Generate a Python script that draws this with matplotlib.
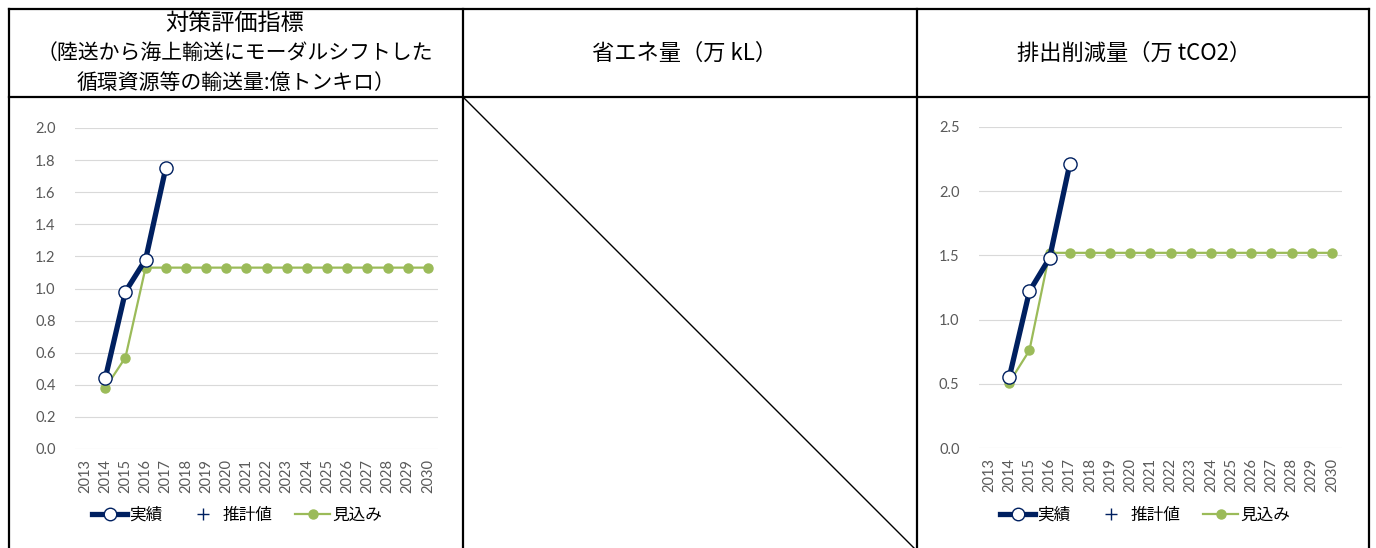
import matplotlib
matplotlib.use("Agg")
import matplotlib.pyplot as plt
from matplotlib.lines import Line2D

plt.rcParams['font.family'] = ['Noto Sans CJK JP', 'DejaVu Sans']

years = [str(y) for y in range(2013, 2031)]

# Left chart: 循環資源等の輸送量 (億トンキロ)
left_actual_years = ['2014', '2015', '2016', '2017']
left_actual = [0.44, 0.98, 1.18, 1.75]
left_outlook_years = [str(y) for y in range(2014, 2031)]
left_outlook = [0.38, 0.57, 1.13, 1.13, 1.13, 1.13, 1.13, 1.13, 1.13,
                1.13, 1.13, 1.13, 1.13, 1.13, 1.13, 1.13, 1.13]
left_yticks = [0.0, 0.2, 0.4, 0.6, 0.8, 1.0, 1.2, 1.4, 1.6, 1.8, 2.0]

# Right chart: 排出削減量 (万tCO2)
right_actual_years = ['2014', '2015', '2016', '2017']
right_actual = [0.55, 1.22, 1.48, 2.21]
right_outlook_years = [str(y) for y in range(2014, 2031)]
right_outlook = [0.51, 0.76, 1.52, 1.52, 1.52, 1.52, 1.52, 1.52, 1.52,
                 1.52, 1.52, 1.52, 1.52, 1.52, 1.52, 1.52, 1.52]
right_yticks = [0.0, 0.5, 1.0, 1.5, 2.0, 2.5]

header_left = ["対策評価指標", "（陸送から海上輸送にモーダルシフトした", "循環資源等の輸送量:億トンキロ）"]
header_mid = "省エネ量（万 kL）"
header_right = "排出削減量（万 tCO2）"
legend_labels = ["実績", "推計値", "見込み"]

NAVY = "#002060"
GREEN = "#9BBB59"
GRID = "#D9D9D9"
TICK = "#595959"

W, H = 1376, 548
fig = plt.figure(figsize=(W / 100, H / 100), dpi=100)
fig.patch.set_facecolor("white")

# background / table axes in pixel coords
bg = fig.add_axes([0, 0, 1, 1])
bg.set_xlim(0, W)
bg.set_ylim(H, 0)
bg.axis("off")
lw = 1.6
x_left, x_v1, x_v2, x_right = 9, 463, 917, 1369
y_top, y_mid, y_bot = 9, 97, 560
for x in (x_left, x_v1, x_v2, x_right):
    bg.plot([x, x], [y_top, y_bot], color="black", lw=lw, solid_capstyle="projecting")
for y in (y_top, y_mid):
    bg.plot([x_left, x_right], [y, y], color="black", lw=lw, solid_capstyle="projecting")
bg.plot([x_v1, x_v2], [y_mid, y_mid + (x_v2 - x_v1)], color="black", lw=1.0)

# headers
bg.text(235, 23, header_left[0], ha="center", va="center", fontsize=16.7)
bg.text(235, 53, header_left[1], ha="center", va="center", fontsize=15)
bg.text(236, 83, header_left[2], ha="center", va="center", fontsize=15)
bg.text(685, 53, header_mid, ha="center", va="center", fontsize=16)
bg.text(1134, 53, header_right, ha="center", va="center", fontsize=16)


def make_chart(px_left, px_top, px_right, px_bottom, ymax, yticks,
               act_years, act_vals, out_years, out_vals, fmt, legend_cx):
    ax = fig.add_axes([px_left / W, (H - px_bottom) / H,
                       (px_right - px_left) / W, (px_bottom - px_top) / H])
    idx = {y: i for i, y in enumerate(years)}
    ax.plot([idx[y] for y in out_years], out_vals, color=GREEN, lw=1.6,
            marker="o", markersize=6.5, markerfacecolor=GREEN,
            markeredgecolor=GREEN, zorder=3)
    ax.plot([idx[y] for y in act_years], act_vals, color=NAVY, lw=3.8,
            marker="o", markersize=9.5, markerfacecolor="white",
            markeredgecolor=NAVY, markeredgewidth=1.0, zorder=4)
    ax.set_xlim(-0.5, len(years) - 0.5)
    ax.set_ylim(0, ymax)
    ax.set_xticks(range(len(years)))
    ax.set_xticklabels(years, rotation=90, fontsize=10.5, color=TICK,
                       family=["Lato", "DejaVu Sans"])
    ax.set_yticks(yticks)
    ax.set_yticklabels([fmt.format(v) for v in yticks], fontsize=10.5,
                       color=TICK, family=["Lato", "DejaVu Sans"])
    ax.tick_params(axis="both", length=0)
    ax.tick_params(axis="y", pad=14)
    ax.tick_params(axis="x", pad=7)
    for s in ax.spines.values():
        s.set_visible(False)
    ax.grid(axis="y", color=GRID, lw=0.8)
    ax.set_axisbelow(True)
    ax.set_facecolor("none")

    handles = [
        Line2D([], [], color=NAVY, lw=3.8, marker="o", markersize=9,
               markerfacecolor="white", markeredgecolor=NAVY),
        Line2D([], [], color=NAVY, lw=0, marker="+", markersize=8,
               markeredgewidth=1.0),
        Line2D([], [], color=GREEN, lw=1.6, marker="o", markersize=6.5,
               markerfacecolor=GREEN, markeredgecolor=GREEN),
    ]
    fig.legend(handles, legend_labels, loc="center",
               bbox_to_anchor=(legend_cx / W, (H - 515) / H), ncol=3,
               frameon=False, fontsize=12, handlelength=2.1,
               handletextpad=0.1, columnspacing=1.4, numpoints=1)
    return ax


make_chart(75, 128, 438, 449, 2.0, left_yticks, left_actual_years, left_actual,
           left_outlook_years, left_outlook, "{:.1f}", 237)
make_chart(979, 127, 1342, 448, 2.5, right_yticks, right_actual_years, right_actual,
           right_outlook_years, right_outlook, "{:.1f}", 1145)

fig.savefig("out.png", dpi=100, facecolor="white")
